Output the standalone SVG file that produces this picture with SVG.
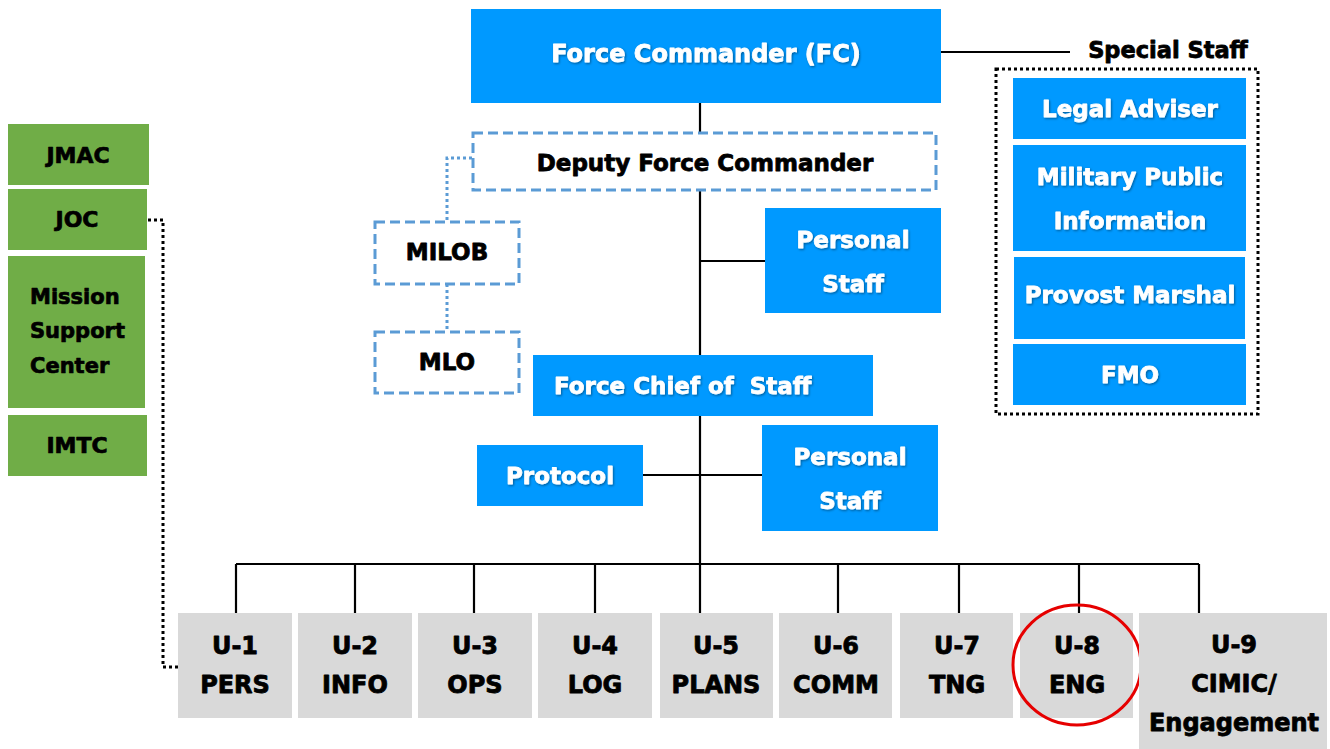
<svg xmlns="http://www.w3.org/2000/svg" width="1330" height="749" viewBox="0 0 1330 749">
  <defs>
    <filter id="shadow" x="-10%" y="-30%" width="120%" height="160%">
      <feDropShadow dx="1" dy="1.2" stdDeviation="0.8" flood-color="#000" flood-opacity="0.4"/>
    </filter>
  </defs>
  <style>
    text { font-family: "DejaVu Sans", "Liberation Sans", sans-serif; font-weight: bold; text-anchor: middle; stroke-linejoin: round; }
    .blue { fill: #0099FF; }
    .green { fill: #70AD47; }
    .grey { fill: #D9D9D9; }
    .dash { fill: #FFFFFF; stroke: #5B9BD5; stroke-width: 3; stroke-dasharray: 10 5; }
    .wt { fill: #FFFFFF; stroke: #FFFFFF; stroke-width: 0.8; font-size: 23px; filter: url(#shadow); }
    .bk { fill: #000000; stroke: #000000; stroke-width: 0.8; font-size: 23px; }
    .gt { fill: #000000; stroke: #000000; stroke-width: 0.7; font-size: 21px; }
    .ut { fill: #000000; stroke: #000000; stroke-width: 0.8; font-size: 24px; }
    .line { fill: none; stroke: #000; stroke-width: 2.2; }
    .bdot { fill: none; stroke: #5B9BD5; stroke-width: 3; stroke-dasharray: 3 3; }
    .kdot { fill: none; stroke: #000; stroke-width: 3; stroke-dasharray: 3 3; }
  </style>
  <rect width="1330" height="749" fill="#FFFFFF"/>

  <!-- connectors -->
  <g id="connectors">
    <line class="line" x1="700" y1="103" x2="700" y2="613"/>
    <line class="line" x1="941" y1="52" x2="1070" y2="52"/>
    <line class="line" x1="700" y1="261" x2="765" y2="261"/>
    <line class="line" x1="643" y1="475" x2="762" y2="475"/>
    <line class="line" x1="236" y1="564" x2="1199" y2="564"/>
    <line class="line" x1="236" y1="564" x2="236" y2="613"/>
    <line class="line" x1="355" y1="564" x2="355" y2="613"/>
    <line class="line" x1="474" y1="564" x2="474" y2="613"/>
    <line class="line" x1="595" y1="564" x2="595" y2="613"/>
    <line class="line" x1="838" y1="564" x2="838" y2="613"/>
    <line class="line" x1="959" y1="564" x2="959" y2="613"/>
    <line class="line" x1="1079" y1="564" x2="1079" y2="613"/>
    <line class="line" x1="1199" y1="564" x2="1199" y2="613"/>
    <polyline class="bdot" points="472,158 447,158 447,221"/>
    <line class="bdot" x1="447" y1="284" x2="447" y2="331"/>
    <polyline class="kdot" points="148,220 163,220 163,667 178,667"/>
  </g>

  <!-- command -->
  <g id="fc">
    <rect class="blue" x="471" y="9" width="470" height="94"/>
    <text class="wt" x="706" y="62" style="font-size:24px">Force Commander (FC)</text>
  </g>
  <g id="dfc">
    <rect class="dash" x="473" y="133" width="463" height="57"/>
    <text class="bk" x="705" y="171">Deputy Force Commander</text>
  </g>
  <g id="milob">
    <rect class="dash" x="375" y="222" width="144" height="62"/>
    <text class="bk" x="447" y="260">MILOB</text>
  </g>
  <g id="mlo">
    <rect class="dash" x="375" y="332" width="144" height="61"/>
    <text class="bk" x="447" y="370">MLO</text>
  </g>
  <g id="personal-staff-1">
    <rect class="blue" x="765" y="208" width="176" height="105"/>
    <text class="wt" x="853" y="248">Personal</text>
    <text class="wt" x="853" y="292">Staff</text>
  </g>
  <g id="fcos">
    <rect class="blue" x="533" y="355" width="340" height="61"/>
    <text class="wt" x="554" y="394" style="text-anchor:start" xml:space="preserve">Force Chief of  Staff</text>
  </g>
  <g id="protocol">
    <rect class="blue" x="477" y="445" width="166" height="61"/>
    <text class="wt" x="560" y="484">Protocol</text>
  </g>
  <g id="personal-staff-2">
    <rect class="blue" x="762" y="425" width="176" height="106"/>
    <text class="wt" x="850" y="465">Personal</text>
    <text class="wt" x="850" y="509">Staff</text>
  </g>

  <!-- special staff -->
  <g id="special-staff">
    <text class="bk" x="1168" y="58" style="font-size:22.5px">Special Staff</text>
    <rect class="kdot" x="996" y="69" width="262" height="345"/>
  </g>
  <g id="legal">
    <rect class="blue" x="1013" y="78" width="233" height="61"/>
    <text class="wt" x="1130" y="117">Legal Adviser</text>
  </g>
  <g id="mpi">
    <rect class="blue" x="1013" y="145" width="233" height="106"/>
    <text class="wt" x="1130" y="185">Military Public</text>
    <text class="wt" x="1130" y="229">Information</text>
  </g>
  <g id="provost">
    <rect class="blue" x="1014" y="257" width="231" height="82"/>
    <text class="wt" x="1130" y="303">Provost Marshal</text>
  </g>
  <g id="fmo">
    <rect class="blue" x="1013" y="344" width="233" height="61"/>
    <text class="wt" x="1130" y="383">FMO</text>
  </g>

  <!-- mission components -->
  <g id="jmac">
    <rect class="green" x="8" y="124" width="141" height="61"/>
    <text class="gt" x="78" y="163" style="font-size:22px">JMAC</text>
  </g>
  <g id="joc">
    <rect class="green" x="8" y="189" width="139" height="61"/>
    <text class="gt" x="77" y="227" style="font-size:22px">JOC</text>
  </g>
  <g id="msc">
    <rect class="green" x="8" y="256" width="137" height="152"/>
    <text class="gt" x="30" y="304" style="text-anchor:start">Mission</text>
    <text class="gt" x="30" y="338" style="text-anchor:start">Support</text>
    <text class="gt" x="30" y="373" style="text-anchor:start">Center</text>
  </g>
  <g id="imtc">
    <rect class="green" x="8" y="415" width="139" height="61"/>
    <text class="gt" x="77" y="453" style="font-size:22px">IMTC</text>
  </g>

  <!-- staff branches -->
  <g id="u1">
    <rect class="grey" x="178" y="613" width="114" height="105"/>
    <text class="ut" x="235" y="654">U-1</text>
    <text class="ut" x="235" y="693">PERS</text>
  </g>
  <g id="u2">
    <rect class="grey" x="298" y="613" width="114" height="105"/>
    <text class="ut" x="355" y="654">U-2</text>
    <text class="ut" x="355" y="693">INFO</text>
  </g>
  <g id="u3">
    <rect class="grey" x="418" y="613" width="114" height="105"/>
    <text class="ut" x="475" y="654">U-3</text>
    <text class="ut" x="475" y="693">OPS</text>
  </g>
  <g id="u4">
    <rect class="grey" x="538" y="613" width="114" height="105"/>
    <text class="ut" x="595" y="654">U-4</text>
    <text class="ut" x="595" y="693">LOG</text>
  </g>
  <g id="u5">
    <rect class="grey" x="660" y="613" width="113" height="105"/>
    <text class="ut" x="716" y="654">U-5</text>
    <text class="ut" x="716" y="693">PLANS</text>
  </g>
  <g id="u6">
    <rect class="grey" x="779" y="613" width="113" height="105"/>
    <text class="ut" x="836" y="654">U-6</text>
    <text class="ut" x="836" y="693">COMM</text>
  </g>
  <g id="u7">
    <rect class="grey" x="900" y="613" width="113" height="105"/>
    <text class="ut" x="957" y="654">U-7</text>
    <text class="ut" x="957" y="693">TNG</text>
  </g>
  <g id="u8">
    <rect class="grey" x="1020" y="613" width="113" height="105"/>
    <text class="ut" x="1077" y="654">U-8</text>
    <text class="ut" x="1077" y="693">ENG</text>
    <ellipse cx="1077" cy="665" rx="64" ry="60" fill="none" stroke="#E60000" stroke-width="3"/>
  </g>
  <g id="u9">
    <rect class="grey" x="1139" y="613" width="188" height="136"/>
    <text class="ut" x="1234" y="653">U-9</text>
    <text class="ut" x="1234" y="692">CIMIC/</text>
    <text class="ut" x="1234" y="731">Engagement</text>
  </g>
</svg>
